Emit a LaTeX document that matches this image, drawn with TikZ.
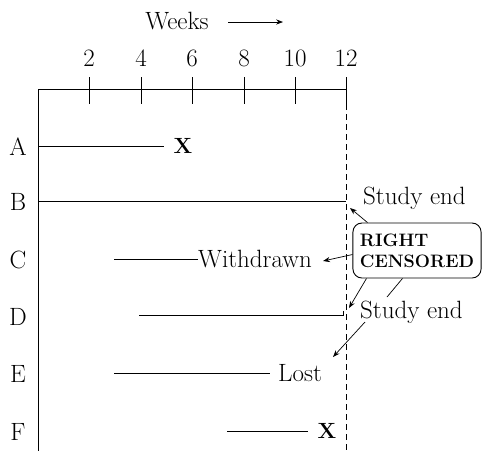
\documentclass[tikz,border=0pt]{standalone}
\usepackage{tikz}
\usetikzlibrary{positioning,arrows.meta}
\tikzset{
  lab/.style={font=\fontsize{25}{29}\selectfont,inner sep=0pt},
  mark x/.style={font=\fontsize{22}{26}\selectfont\bfseries,inner sep=0pt},
  censbox/.style={rectangle,rounded corners=9pt,draw,line width=0.9pt,align=left,font=\fontsize{18}{21}\selectfont\bfseries,minimum width=128pt,minimum height=55pt,inner xsep=7pt},
  axis/.style={line width=0.9pt},
  life/.style={line width=0.8pt},
  note/.style={-{Stealth[length=2.4mm,width=1.8mm]},line width=0.7pt}
}

\begin{document}
\begin{tikzpicture}[x=1pt,y=-1pt]
  \useasboundingbox (0,0) rectangle (482,451);
  % time axis
  \node[lab] (weeks) at (177,21) {Weeks};
  \coordinate (wa) at (228,22);
  \coordinate (wb) at (283,22);
  \draw[-{Stealth[length=2.4mm,width=1.8mm]},line width=0.7pt] (wa) -- (wb);
  \foreach \w/\x in {2/89,4/141,6/192,8/244,10/295,12/346}{
    \node[lab] (t\w) at (\x,58) {\w};
    \draw[axis] (\x,77) -- (\x,104);
  }
  \coordinate (origin) at (38,89);
  \draw[axis] (origin) -- (346,89);
  \draw[axis] (origin) -- (38,451);
  \draw[line width=0.8pt,dash pattern=on 6pt off 4pt] (346,104) -- (346,451);
  % subjects
  \node[lab] (rA) at (18,147) {A};
  \node[lab] (rB) at (18,202) {B};
  \node[lab] (rC) at (18,260) {C};
  \node[lab] (rD) at (18,317) {D};
  \node[lab] (rE) at (18,374) {E};
  \node[lab] (rF) at (18,432) {F};
  \node[mark x] (xA) at (183,146) {X};
  \draw[life] (38,146) -- (164,146);
  \coordinate (endB) at (346,201);
  \draw[life] (38,201) -- (endB);
  \node[lab,anchor=west] (wd) at (198,259) {Withdrawn};
  \draw[life] (114,259) -- (wd.west);
  \coordinate (endD) at (343,315);
  \draw[life] (139,315) -- (endD) -- (343,311);
  \node[lab,anchor=west] (lost) at (278,373) {Lost};
  \draw[life] (114,373) -- (270,373);
  \node[mark x] (xF) at (327,431) {X};
  \draw[life] (227,431) -- (308,431);
  % right censored notes
  \node[lab,anchor=base west] (se1) at (363,204) {Study end};
  \node[lab,anchor=base west] (se2) at (360,318) {Study end};
  \node[censbox] (rc) at (417,250.5) {RIGHT\\CENSORED};
  \draw[note] ([xshift=15pt]rc.north west) -- (350,208);
  \draw[note] ([yshift=-4pt]rc.west) -- ([xshift=11pt,yshift=-2pt]wd.east);
  \draw[note] ([xshift=14pt]rc.south west) -- (349,308);
  \draw[line width=0.7pt] ([xshift=50pt]rc.south west) -- (387,297);
  \draw[note] (365,322) -- (333,357);
\end{tikzpicture}
\end{document}
